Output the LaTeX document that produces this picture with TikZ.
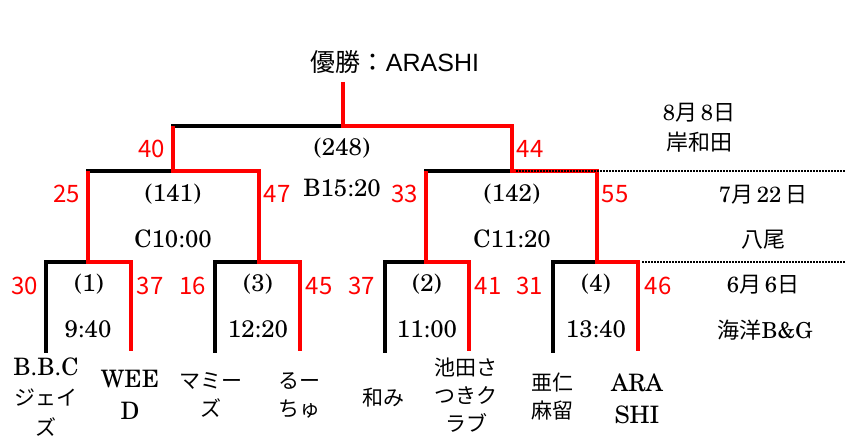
\documentclass[tikz,border=0pt]{standalone}
\usepackage{fontspec}
\usepackage{xcolor}
\usepackage{tikz}
\setmainfont{TeX Gyre Schola}
\newfontfamily\jp{Noto Sans CJK JP}
\newfontfamily\titlefont{Liberation Sans}

\begin{document}
\begin{tikzpicture}[
  x=1pt, y=-1pt,
  line width=3.5pt,
  line join=miter,
  win/.style={draw=red},
  lose/.style={draw=black, line cap=rect},
  dotline/.style={line width=1.5pt, dash pattern=on 1.5pt off 1.5pt},
  score/.style={text=red, inner sep=0pt, font=\jp\fontsize{24}{24}\selectfont},
  info/.style={inner sep=0pt, font=\fontsize{24}{24}\selectfont},
  team/.style={inner sep=0pt, align=center, font=\fontsize{24}{32}\selectfont},
  jteam/.style={inner sep=0pt, align=center, font=\jp\fontsize{21}{28}\selectfont},
  date/.style={inner sep=0pt, font=\fontsize{22}{22}\selectfont}
]
  \useasboundingbox (0,0) rectangle (846,441);

  % bracket points
  \coordinate (top) at (343,82);
  \coordinate (c248) at (343,126);
  \coordinate (c141) at (173,171);
  \coordinate (c142) at (512,171);
  \coordinate (c1) at (88,262);
  \coordinate (c3) at (259,262);
  \coordinate (c2) at (426,262);
  \coordinate (c4) at (597,262);
  \coordinate (t1) at (46,351);
  \coordinate (t2) at (131,351);
  \coordinate (t3) at (215,351);
  \coordinate (t4) at (300,351);
  \coordinate (t5) at (385,351);
  \coordinate (t6) at (469,351);
  \coordinate (t7) at (553,351);
  \coordinate (t8) at (638,351);
  \coordinate (edge) at (846,0);

  % losing sides
  \draw[lose] (c248) -- (c141 |- c248);
  \draw[lose] (c141) -- (c1 |- c141);
  \draw[lose] (c142) -- (c2 |- c142);
  \draw[lose] (c1) -| (t1);
  \draw[lose] (c3) -| (t3);
  \draw[lose] (c2) -| (t5);
  \draw[lose] (c4) -| (t7);

  % winning sides
  \draw[win] (top) -- (c248) -| (c142) -| (c4) -| (t8);
  \draw[win] (c141 |- c248) -- (c141) -| (c3) -| (t4);
  \draw[win] (c1 |- c141) -- (c1) -| (t2);
  \draw[win] (c2 |- c142) -- (c2) -| (t6);

  \draw[dotline] ([xshift=4pt]c142) -- (edge |- c142);
  \draw[dotline] ([xshift=4pt]t8 |- c4) -- (edge |- c4);

  \node[inner sep=0pt, font=\fontsize{25}{25}\selectfont] (title) at (395,62)
    {{\jp 優勝：}{\titlefont ARASHI}};

  % scores
  \node[score, anchor=east] (s40) at (167,149) {40};
  \node[score, anchor=west] (s44) at (515,149) {44};
  \node[score, anchor=east] (s25) at (82,194) {25};
  \node[score, anchor=west] (s47) at (262,194) {47};
  \node[score, anchor=east] (s33) at (420,194) {33};
  \node[score, anchor=west] (s55) at (600,194) {55};
  \node[score, anchor=east] (s30) at (40,286) {30};
  \node[score, anchor=west] (s37a) at (135,286) {37};
  \node[score, anchor=east] (s16) at (208,286) {16};
  \node[score, anchor=west] (s45) at (304,286) {45};
  \node[score, anchor=east] (s37b) at (377,286) {37};
  \node[score, anchor=west] (s41) at (473,286) {41};
  \node[score, anchor=east] (s31) at (545,286) {31};
  \node[score, anchor=west] (s46) at (643,286) {46};

  % match numbers and times
  \node[info] (m248) at (342,148) {(248)};
  \node[info] (b248) at (342,188) {B15:20};
  \node[info] (m141) at (173,194) {(141)};
  \node[info] (b141) at (173,239) {C10:00};
  \node[info] (m142) at (512,194) {(142)};
  \node[info] (b142) at (512,239) {C11:20};
  \node[info] (m1) at (89,284) {(1)};
  \node[info] (b1) at (88,329) {9:40};
  \node[info] (m3) at (258,284) {(3)};
  \node[info] (b3) at (258,329) {12:20};
  \node[info] (m2) at (427,284) {(2)};
  \node[info] (b2) at (427,329) {11:00};
  \node[info] (m4) at (596,284) {(4)};
  \node[info] (b4) at (596,329) {13:40};

  % dates and places
  \node[date] (day8) at (699,113) {8{\jp 月}\,8{\jp 日}};
  \node[date] (pl8) at (699,142) {\jp 岸和田};
  \node[date] (day7) at (763,195) {7{\jp 月}\,22\,{\jp 日}};
  \node[date] (pl7) at (763,240) {\jp 八尾};
  \node[date] (day6) at (763,285) {6{\jp 月}\,6{\jp 日}};
  \node[date] (pl6) at (765,330) {{\jp 海洋}B\&G};

  % teams
  \node[team] (n1) at (46,397) {B.B.C\\[-2pt]{\jp\fontsize{21}{28}\selectfont ジェイ}\\[-2pt]{\jp\fontsize{21}{28}\selectfont ズ}};
  \node[team] (n2) at (130,395) {WEE\\D};
  \node[jteam] (n3) at (211,395) {マミー\\ズ};
  \node[jteam] (n4) at (299,395) {るー\\ちゅ};
  \node[jteam] (n5) at (383,398) {和み};
  \node[jteam] (n6) at (466,395) {池田さ\\つきク\\ラブ};
  \node[jteam] (n7) at (552,397) {亜仁\\麻留};
  \node[team] (n8) at (637,399) {ARA\\SHI};
\end{tikzpicture}
\end{document}
